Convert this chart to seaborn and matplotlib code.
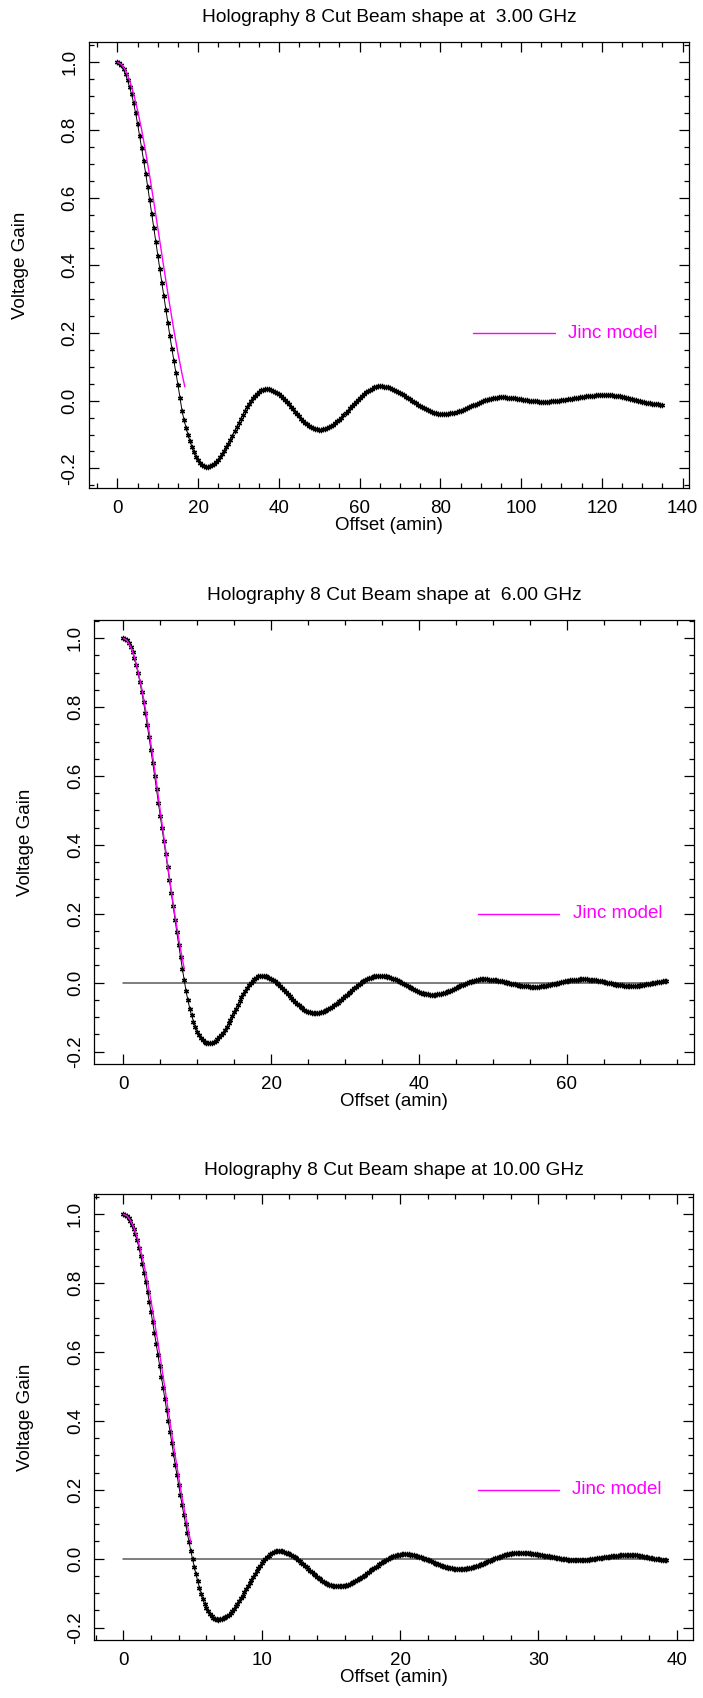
import matplotlib
matplotlib.use("Agg")
import numpy as np
import seaborn as sns
import matplotlib.pyplot as plt
from matplotlib.ticker import MultipleLocator, FormatStrFormatter

# ---------------- data ----------------
# 3 GHz cut: offsets every 0.5 amin from 0 to 135
offset_3ghz = np.arange(0, 271) * 0.5
gain_3ghz = [
    1.000, 0.998, 0.991, 0.979, 0.964, 0.947, 0.927, 0.905, 0.880, 0.850,
    0.817, 0.782, 0.746, 0.709, 0.671, 0.632, 0.592, 0.551, 0.510, 0.469,
    0.428, 0.388, 0.348, 0.308, 0.268, 0.229, 0.190, 0.152, 0.116, 0.081,
    0.046, 0.008, -0.030, -0.057, -0.080, -0.101, -0.120, -0.137, -0.152, -0.165,
    -0.176, -0.184, -0.190, -0.193, -0.195, -0.195, -0.193, -0.190, -0.186, -0.180,
    -0.174, -0.166, -0.157, -0.148, -0.138, -0.127, -0.115, -0.103, -0.091, -0.079,
    -0.067, -0.054, -0.043, -0.031, -0.020, -0.010, -0.001, 0.008, 0.015, 0.021,
    0.027, 0.031, 0.033, 0.035, 0.035, 0.034, 0.033, 0.030, 0.027, 0.023,
    0.019, 0.014, 0.008, 0.002, -0.005, -0.011, -0.018, -0.026, -0.033, -0.040,
    -0.046, -0.053, -0.059, -0.065, -0.070, -0.074, -0.078, -0.081, -0.084, -0.085,
    -0.086, -0.086, -0.085, -0.084, -0.081, -0.079, -0.075, -0.071, -0.066, -0.061,
    -0.056, -0.050, -0.043, -0.037, -0.030, -0.023, -0.017, -0.010, -0.003, 0.003,
    0.009, 0.015, 0.020, 0.025, 0.029, 0.033, 0.036, 0.039, 0.041, 0.042,
    0.042, 0.042, 0.041, 0.040, 0.039, 0.037, 0.035, 0.032, 0.030, 0.027,
    0.023, 0.020, 0.016, 0.012, 0.008, 0.004, 0.000, -0.004, -0.008, -0.012,
    -0.015, -0.019, -0.022, -0.025, -0.028, -0.031, -0.033, -0.035, -0.037, -0.038,
    -0.039, -0.039, -0.039, -0.039, -0.038, -0.037, -0.036, -0.035, -0.033, -0.031,
    -0.029, -0.027, -0.025, -0.022, -0.019, -0.017, -0.014, -0.012, -0.009, -0.006,
    -0.004, -0.002, 0.001, 0.003, 0.004, 0.006, 0.007, 0.008, 0.009, 0.010,
    0.010, 0.010, 0.010, 0.009, 0.009, 0.008, 0.008, 0.007, 0.006, 0.005,
    0.004, 0.003, 0.002, 0.001, 0.000, -0.001, -0.001, -0.002, -0.002, -0.003,
    -0.003, -0.003, -0.003, -0.003, -0.003, -0.002, -0.002, -0.001, -0.001, 0.000,
    0.001, 0.002, 0.003, 0.004, 0.005, 0.006, 0.007, 0.008, 0.009, 0.010,
    0.011, 0.012, 0.013, 0.013, 0.014, 0.015, 0.015, 0.016, 0.016, 0.017,
    0.017, 0.017, 0.017, 0.017, 0.016, 0.016, 0.015, 0.015, 0.014, 0.013,
    0.011, 0.010, 0.009, 0.007, 0.006, 0.004, 0.003, 0.001, 0.000, -0.002,
    -0.003, -0.005, -0.006, -0.007, -0.008, -0.009, -0.010, -0.011, -0.011, -0.012,
    -0.012,
]
jinc_x_3ghz = [0, 1, 2, 3, 4, 5, 6, 7, 8, 9, 10, 11, 12, 13, 14, 15, 16, 16.7]
jinc_y_3ghz = [1.000, 0.994, 0.976, 0.947, 0.907, 0.857, 0.800, 0.734, 0.663, 0.588,
               0.510, 0.432, 0.354, 0.279, 0.207, 0.140, 0.079, 0.041]

# 6 GHz cut: offsets every 0.25 amin from 0 to 73.5
offset_6ghz = np.arange(0, 295) * 0.25
gain_6ghz = [
    1.000, 0.998, 0.994, 0.986, 0.976, 0.961, 0.943, 0.922,
    0.899, 0.873, 0.845, 0.814, 0.782, 0.748, 0.712, 0.675,
    0.638, 0.600, 0.561, 0.523, 0.485, 0.448, 0.410, 0.373,
    0.336, 0.299, 0.261, 0.222, 0.182, 0.146, 0.110, 0.075,
    0.040, 0.007, -0.025, -0.051, -0.075, -0.095, -0.113, -0.129,
    -0.142, -0.152, -0.161, -0.167, -0.172, -0.174, -0.175, -0.175,
    -0.174, -0.172, -0.169, -0.164, -0.159, -0.152, -0.145, -0.137,
    -0.128, -0.118, -0.108, -0.097, -0.086, -0.075, -0.064, -0.053,
    -0.043, -0.033, -0.024, -0.015, -0.007, 0.000, 0.006, 0.011,
    0.015, 0.018, 0.020, 0.020, 0.020, 0.019, 0.017, 0.015,
    0.012, 0.008, 0.004, -0.001, -0.005, -0.010, -0.016, -0.021,
    -0.027, -0.033, -0.039, -0.045, -0.050, -0.056, -0.061, -0.066,
    -0.070, -0.074, -0.078, -0.081, -0.084, -0.086, -0.087, -0.088,
    -0.088, -0.088, -0.087, -0.086, -0.084, -0.082, -0.079, -0.077,
    -0.074, -0.070, -0.066, -0.062, -0.058, -0.054, -0.049, -0.045,
    -0.040, -0.035, -0.030, -0.026, -0.021, -0.016, -0.012, -0.007,
    -0.003, 0.001, 0.004, 0.007, 0.010, 0.013, 0.015, 0.017,
    0.018, 0.019, 0.020, 0.020, 0.020, 0.019, 0.018, 0.017,
    0.016, 0.014, 0.012, 0.010, 0.007, 0.004, 0.001, -0.002,
    -0.004, -0.007, -0.010, -0.013, -0.016, -0.019, -0.022, -0.025,
    -0.027, -0.029, -0.031, -0.032, -0.033, -0.034, -0.035, -0.035,
    -0.035, -0.035, -0.034, -0.033, -0.032, -0.031, -0.029, -0.027,
    -0.025, -0.023, -0.020, -0.018, -0.015, -0.013, -0.010, -0.008,
    -0.006, -0.003, -0.001, 0.001, 0.003, 0.005, 0.006, 0.008,
    0.009, 0.010, 0.010, 0.010, 0.010, 0.010, 0.009, 0.009,
    0.008, 0.008, 0.007, 0.006, 0.005, 0.004, 0.002, 0.001,
    0.000, -0.001, -0.003, -0.004, -0.005, -0.007, -0.008, -0.009,
    -0.009, -0.010, -0.011, -0.011, -0.012, -0.012, -0.012, -0.012,
    -0.012, -0.012, -0.011, -0.010, -0.009, -0.009, -0.008, -0.007,
    -0.005, -0.004, -0.003, -0.001, 0.000, 0.001, 0.002, 0.004,
    0.005, 0.006, 0.007, 0.008, 0.008, 0.009, 0.009, 0.010,
    0.010, 0.010, 0.010, 0.010, 0.009, 0.009, 0.008, 0.008,
    0.007, 0.006, 0.005, 0.004, 0.002, 0.001, 0.000, -0.001,
    -0.002, -0.004, -0.005, -0.006, -0.007, -0.008, -0.008, -0.009,
    -0.009, -0.010, -0.010, -0.010, -0.010, -0.010, -0.009, -0.009,
    -0.008, -0.007, -0.006, -0.005, -0.004, -0.003, -0.002, -0.001,
    0.000, 0.001, 0.002, 0.003, 0.004, 0.005, 0.005,
]
jinc_x_6ghz = [0, 0.5, 1, 1.5, 2, 2.5, 3, 3.5, 4, 4.5, 5, 5.5, 6, 6.5, 7, 7.5, 8, 8.25]
jinc_y_6ghz = [1.000, 0.994, 0.976, 0.946, 0.904, 0.854, 0.795, 0.729, 0.656, 0.580,
               0.500, 0.422, 0.343, 0.267, 0.195, 0.128, 0.068, 0.041]

# 10 GHz cut: offsets every 0.125 amin from 0 to 39.25
offset_10ghz = np.arange(0, 315) * 0.125
gain_10ghz = [
    1.000, 0.999, 0.995, 0.988, 0.980, 0.970, 0.958, 0.942, 0.924, 0.903, 0.880, 0.855, 0.829, 0.802, 0.775, 0.746,
    0.716, 0.686, 0.655, 0.624, 0.592, 0.560, 0.528, 0.496, 0.463, 0.431, 0.399, 0.367, 0.335, 0.304, 0.273, 0.243,
    0.213, 0.184, 0.155, 0.127, 0.100, 0.074, 0.048, 0.023, -0.001, -0.024, -0.045, -0.065, -0.084, -0.101, -0.117, -0.131,
    -0.143, -0.153, -0.161, -0.167, -0.172, -0.175, -0.176, -0.177, -0.176, -0.174, -0.172, -0.169, -0.166, -0.162, -0.157, -0.151,
    -0.145, -0.138, -0.131, -0.123, -0.115, -0.107, -0.098, -0.089, -0.080, -0.071, -0.062, -0.053, -0.045, -0.036, -0.028, -0.020,
    -0.013, -0.007, -0.001, 0.004, 0.009, 0.013, 0.017, 0.019, 0.021, 0.022, 0.022, 0.022, 0.021, 0.020, 0.018, 0.016,
    0.014, 0.011, 0.008, 0.005, 0.001, -0.003, -0.007, -0.011, -0.016, -0.020, -0.025, -0.030, -0.035, -0.040, -0.044, -0.048,
    -0.052, -0.056, -0.060, -0.064, -0.067, -0.070, -0.073, -0.075, -0.077, -0.078, -0.079, -0.080, -0.080, -0.080, -0.079, -0.079,
    -0.078, -0.077, -0.075, -0.073, -0.070, -0.068, -0.065, -0.062, -0.059, -0.056, -0.053, -0.050, -0.046, -0.042, -0.038, -0.034,
    -0.030, -0.027, -0.023, -0.020, -0.016, -0.013, -0.009, -0.006, -0.003, 0.000, 0.002, 0.005, 0.007, 0.009, 0.010, 0.011,
    0.012, 0.013, 0.013, 0.013, 0.013, 0.013, 0.012, 0.011, 0.010, 0.009, 0.007, 0.006, 0.004, 0.002, 0.000, -0.001,
    -0.003, -0.005, -0.008, -0.010, -0.012, -0.014, -0.016, -0.018, -0.020, -0.022, -0.023, -0.025, -0.026, -0.027, -0.028, -0.029,
    -0.029, -0.030, -0.030, -0.030, -0.030, -0.030, -0.029, -0.028, -0.027, -0.026, -0.025, -0.024, -0.022, -0.020, -0.018, -0.016,
    -0.014, -0.012, -0.010, -0.008, -0.006, -0.003, -0.001, 0.001, 0.003, 0.005, 0.006, 0.008, 0.010, 0.012, 0.013, 0.014,
    0.015, 0.016, 0.016, 0.017, 0.017, 0.017, 0.017, 0.017, 0.017, 0.017, 0.016, 0.016, 0.015, 0.014, 0.013, 0.013,
    0.012, 0.011, 0.010, 0.009, 0.008, 0.008, 0.007, 0.006, 0.005, 0.004, 0.003, 0.002, 0.001, 0.000, -0.001, -0.002,
    -0.002, -0.003, -0.003, -0.004, -0.004, -0.004, -0.004, -0.004, -0.004, -0.004, -0.004, -0.004, -0.003, -0.003, -0.002, -0.002,
    -0.001, 0.000, 0.001, 0.002, 0.002, 0.003, 0.004, 0.005, 0.005, 0.006, 0.007, 0.008, 0.008, 0.009, 0.009, 0.010,
    0.010, 0.011, 0.011, 0.011, 0.011, 0.011, 0.011, 0.011, 0.010, 0.010, 0.009, 0.008, 0.007, 0.006, 0.005, 0.004,
    0.003, 0.002, 0.001, 0.000, -0.001, -0.002, -0.002, -0.003, -0.003, -0.004, -0.004,
]
jinc_x_10ghz = [0, 0.25, 0.5, 0.75, 1, 1.25, 1.5, 1.75, 2, 2.25, 2.5, 2.75, 3,
                3.25, 3.5, 3.75, 4, 4.25, 4.5, 4.75, 4.88]
jinc_y_10ghz = [1.000, 0.996, 0.983, 0.962, 0.933, 0.895, 0.852, 0.803, 0.748, 0.689,
                0.627, 0.562, 0.496, 0.429, 0.363, 0.299, 0.237, 0.177, 0.123, 0.072, 0.048]

frequencies = [3.00, 6.00, 10.00]
title_fmt = "Holography 8 Cut Beam shape at {:5.2f} GHz"
x_label = "Offset (amin)"
y_label = "Voltage Gain"
legend_label = "Jinc model"

# ---------------- style ----------------
sns.set_theme(style="ticks")
plt.rcParams["font.family"] = ["Liberation Sans", "DejaVu Sans"]
plt.rcParams["axes.unicode_minus"] = False
plt.rcParams["ytick.alignment"] = "center"

FS = 13.5
FS_TITLE = 13.8
MAGENTA = "#ff00ff"
FIG_W, FIG_H = 703, 1698
fig = plt.figure(figsize=(FIG_W / 100, FIG_H / 100), dpi=100)
fig.patch.set_facecolor("white")

panels = [
    dict(x=offset_3ghz, y=gain_3ghz, jx=jinc_x_3ghz, jy=jinc_y_3ghz, zero=False,
         box=(89, 42, 689, 488), xlim=(-7.05, 141.6), ylim=(-0.258, 1.06),
         xmaj=20, xmin=5),
    dict(x=offset_6ghz, y=gain_6ghz, jx=jinc_x_6ghz, jy=jinc_y_6ghz, zero=True,
         box=(94.3, 620, 693.7, 1064.3), xlim=(-3.92, 77.2), ylim=(-0.237, 1.053),
         xmaj=20, xmin=5),
    dict(x=offset_10ghz, y=gain_10ghz, jx=jinc_x_10ghz, jy=jinc_y_10ghz, zero=True,
         box=(94.3, 1194.3, 693.3, 1640), xlim=(-2.10, 41.2), ylim=(-0.236, 1.058),
         xmaj=10, xmin=2),
]

for freq, p in zip(frequencies, panels):
    l, t, r, b = p["box"]
    w, h = r - l, b - t
    ax = fig.add_axes([l / FIG_W, 1 - b / FIG_H, w / FIG_W, h / FIG_H])
    ax.set_facecolor("white")

    if p["zero"]:
        ax.plot([p["x"][0], p["x"][-1]], [0, 0], color="#5a5a5a", lw=1.1, zorder=1)

    sns.lineplot(x=p["x"], y=p["y"], ax=ax, color="black", lw=0.7,
                 marker=(6, 2, 0), markersize=3.8, markeredgewidth=0.9,
                 markeredgecolor="black", estimator=None, sort=False, zorder=2)
    sns.lineplot(x=p["jx"], y=p["jy"], ax=ax, color=MAGENTA, lw=1.0,
                 estimator=None, sort=False, zorder=3)

    # legend sample (line + label)
    tr = ax.get_yaxis_transform()
    ax.plot([0.64, 0.776], [0.2, 0.2], transform=tr, color=MAGENTA, lw=1.0)
    ax.text(0.798, 0.2, legend_label, transform=tr, color=MAGENTA,
            fontsize=FS, ha="left", va="center")

    ax.set_xlim(*p["xlim"])
    ax.set_ylim(*p["ylim"])
    ax.xaxis.set_major_locator(MultipleLocator(p["xmaj"]))
    ax.xaxis.set_minor_locator(MultipleLocator(p["xmin"]))
    ax.yaxis.set_major_locator(MultipleLocator(0.2))
    ax.yaxis.set_minor_locator(MultipleLocator(0.05))
    ax.xaxis.set_major_formatter(FormatStrFormatter("%d"))
    ax.yaxis.set_major_formatter(FormatStrFormatter("%.1f"))

    ax.tick_params(which="both", direction="in", top=True, right=True,
                   color="black", width=0.9, labelcolor="black")
    ax.tick_params(which="major", length=7.2)
    ax.tick_params(which="minor", length=3.6)
    ax.tick_params(axis="x", which="major", labelsize=FS, pad=8.3)
    ax.tick_params(axis="y", which="major", labelsize=FS, pad=7.5, labelrotation=90)

    for s in ax.spines.values():
        s.set_color("black")
        s.set_linewidth(0.9)
        s.set_visible(True)

    ax.set_xlabel(x_label, fontsize=FS, color="black")
    ax.xaxis.set_label_coords(0.5, -41.5 / h)
    ax.xaxis.label.set_va("baseline")
    ax.set_ylabel(y_label, fontsize=FS, color="black")
    ax.yaxis.set_label_coords(-68.5 / w, 0.5)
    ax.yaxis.label.set_va("center")

    ax.text(0.5, 1 + 19.5 / h, title_fmt.format(freq), transform=ax.transAxes,
            ha="center", va="baseline", fontsize=FS_TITLE, color="black")

fig.savefig("out.png", dpi=100, facecolor="white")
